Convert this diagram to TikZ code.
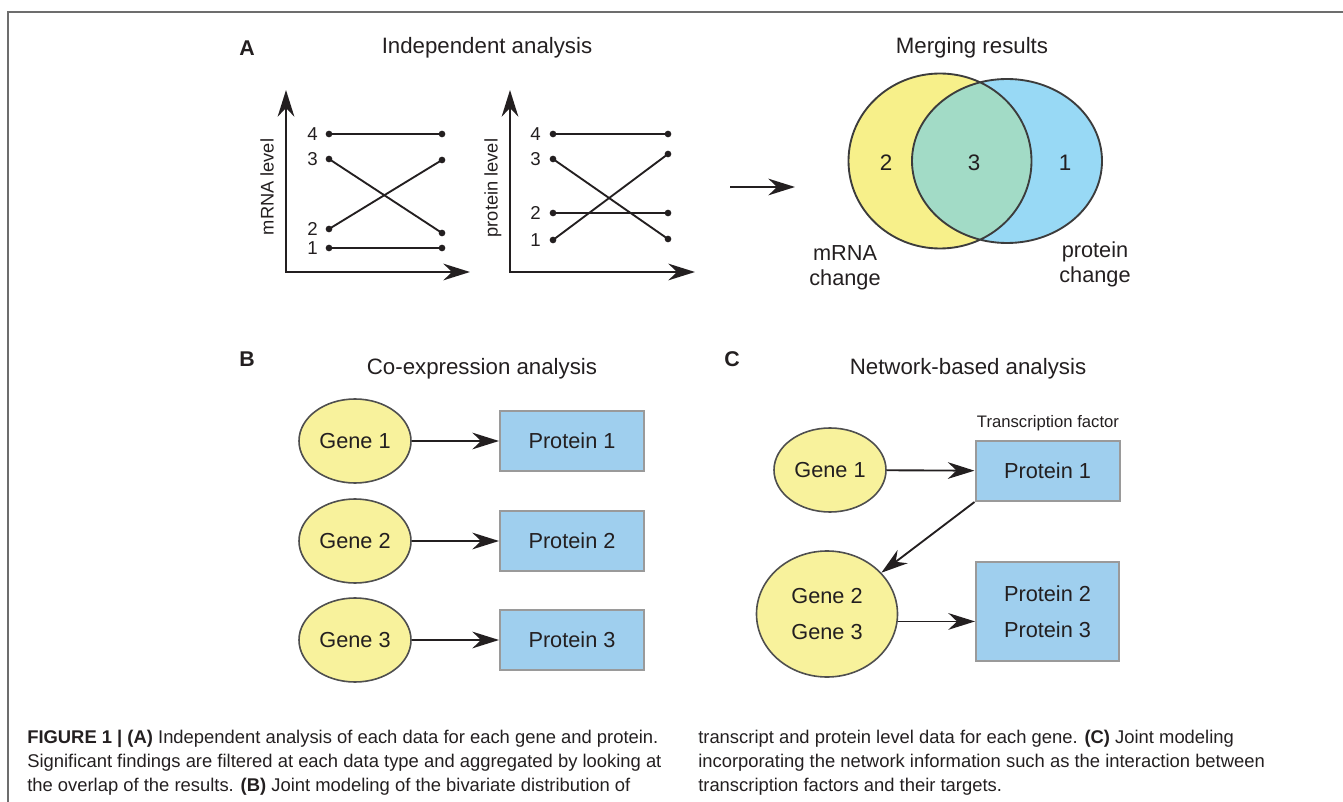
\documentclass[tikz,border=0pt]{standalone}
\usepackage{fontspec}
\setmainfont{Liberation Sans}
\usetikzlibrary{arrows.meta,shapes.geometric}

\definecolor{ink}{HTML}{231F20}
\definecolor{framegrey}{HTML}{6D6D6D}
\definecolor{genefill}{HTML}{F8F29C}
\definecolor{geneedge}{HTML}{4F4F4F}
\definecolor{protfill}{HTML}{9FCFEE}
\definecolor{protedge}{HTML}{9A9A9A}
\definecolor{vennyellow}{HTML}{F7F08A}
\definecolor{vennblue}{HTML}{98D9F5}
\definecolor{vennboth}{HTML}{A2DBC6}
\definecolor{vennedge}{HTML}{3C3C3C}

\tikzset{
  head/.tip={Stealth[length=20pt,width=12.5pt,inset=6.5pt]},
  title/.style={font=\fontsize{16.7pt}{20pt}\selectfont, anchor=base},
  panel/.style={font=\fontsize{16pt}{19pt}\selectfont\bfseries, anchor=base},
  num/.style={font=\fontsize{14pt}{16pt}\selectfont, anchor=east, inner sep=0pt},
  ylabel/.style={font=\fontsize{13.7pt}{16pt}\selectfont, rotate=90},
  axis/.style={line width=1.6pt, head-head},
  level/.style={line width=1.4pt},
  gene/.style={ellipse, draw=geneedge, fill=genefill, line width=1.2pt,
    minimum width=84pt, minimum height=63pt, inner sep=0pt,
    font=\fontsize{16.3pt}{27pt}\selectfont, align=center},
  protein/.style={rectangle, draw=protedge, fill=protfill, line width=1.5pt,
    minimum width=108pt, minimum height=45pt, inner sep=0pt,
    font=\fontsize{16.3pt}{27pt}\selectfont, align=center},
  link/.style={line width=1.4pt, -head},
  caption/.style={font=\fontsize{13.8pt}{18pt}\selectfont, anchor=base west, inner sep=0pt},
}

\begin{document}
\begin{tikzpicture}[x=0.75pt, y=-0.75pt, color=ink]
  \useasboundingbox (0,0) rectangle (1343,802);
  \draw[framegrey, line width=1.6pt] (8,802) -- (8,12) -- (1343,12);

  % (A) independent analysis
  \node[panel] (labA) at (247,56) {A};
  \node[title] (titleA) at (487,54) {Independent analysis};
  \draw[axis] (286,90) -- (286,272) -- (470,272);
  \node[ylabel] (ymrna) at (267,187) {mRNA level};
  \foreach \n/\a/\b in {4/134/134, 3/159/233, 2/229/160, 1/248/248} {
    \draw[level] (329,\a) -- (442,\b);
    \fill (329,\a) circle[radius=2.5pt] (442,\b) circle[radius=2.5pt];
    \node[num] (m\n) at (318,\a) {\n};
  }
  \draw[axis] (510,90) -- (510,272) -- (695,272);
  \node[ylabel] (yprot) at (493,188) {protein level};
  \foreach \n/\a/\b in {4/134/134, 3/159/239, 2/213/213, 1/240/154} {
    \draw[level] (553,\a) -- (668,\b);
    \fill (553,\a) circle[radius=2.5pt] (668,\b) circle[radius=2.5pt];
    \node[num] (q\n) at (541,\a) {\n};
  }

  % merging results
  \node[title] (titleM) at (972,54) {Merging results};
  \coordinate (mfrom) at (730,187);
  \coordinate (mto) at (795,187);
  \draw[link] (mfrom) -- (mto);
  \fill[vennyellow] (940,161) ellipse[x radius=91.5, y radius=87.5];
  \fill[vennblue] (1007,161) ellipse[x radius=95, y radius=82];
  \begin{scope}
    \clip (940,161) ellipse[x radius=91.5, y radius=87.5];
    \fill[vennboth] (1007,161) ellipse[x radius=95, y radius=82];
  \end{scope}
  \draw[vennedge, line width=1.4pt] (940,161) ellipse[x radius=91.5, y radius=87.5]
    (1007,161) ellipse[x radius=95, y radius=82];
  \begin{scope}[every node/.style={font=\fontsize{16.8pt}{20pt}\selectfont}]
    \node (only2) at (886,163) {2};
    \node (both3) at (974,163) {3};
    \node (only1) at (1065,163) {1};
  \end{scope}
  \node[font=\fontsize{16.3pt}{18.8pt}\selectfont, align=center] (mchange) at (845,268) {mRNA\\change};
  \node[font=\fontsize{16.3pt}{18.8pt}\selectfont, align=center] (pchange) at (1095,264) {protein\\change};

  % (B) co-expression
  \node[panel] (labB) at (247,367) {B};
  \node[title] (titleB) at (482,375) {Co-expression analysis};
  \foreach \i/\y in {1/441, 2/541, 3/640} {
    \node[gene] (g\i) at (355,\y) {Gene \i};
    \node[protein] (p\i) at (572,\y) {Protein \i};
    \draw[link] (g\i) -- (p\i);
  }

  % (C) network-based
  \node[panel] (labC) at (732,367) {C};
  \node[title] (titleC) at (968,375) {Network-based analysis};
  \node[gene] (cg1) at (830,470) {Gene 1};
  \node[protein] (cp1) at (1047.5,471) {Protein 1};
  \node[font=\fontsize{12.5pt}{15pt}\selectfont, anchor=base] (tf) at (1048,427) {Transcription factor};
  \node[gene, minimum width=105.75pt, minimum height=94.5pt] (cg23) at (827,614) {Gene 2\\Gene 3};
  \node[protein, minimum width=107.25pt, minimum height=74.25pt] (cp23) at (1047.5,611.5) {Protein 2\\Protein 3};
  \draw[link] (cg1) -- (cp1);
  \draw[link] (cp1.south west) -- (cg23);
  \draw[link] (cg23.-6) -- (cg23.-6 -| cp23.west);

  % caption
  \node[caption] (cap1) at (27,743) {\textbf{FIGURE 1 | (A)} Independent analysis of each data for each gene and protein.};
  \node[caption] (cap2) at (27,767) {Significant findings are filtered at each data type and aggregated by looking at};
  \node[caption] (cap3) at (27,791) {the overlap of the results. \textbf{(B)} Joint modeling of the bivariate distribution of};
  \node[caption] (cap4) at (698,743) {transcript and protein level data for each gene. \textbf{(C)} Joint modeling};
  \node[caption] (cap5) at (698,767) {incorporating the network information such as the interaction between};
  \node[caption] (cap6) at (698,791) {transcription factors and their targets.};
\end{tikzpicture}
\end{document}
